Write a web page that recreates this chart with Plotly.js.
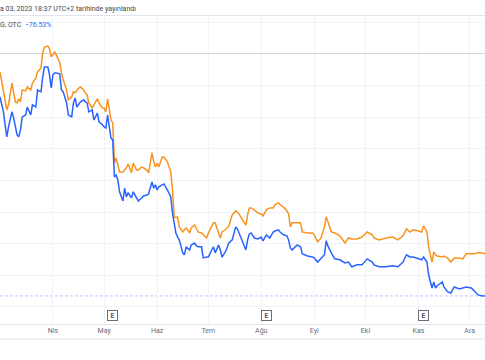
<!DOCTYPE html>
<html>
<head>
<meta charset="utf-8">
<script src="https://cdn.plot.ly/plotly-3.0.1.min.js"></script>
<style>html,body{margin:0;padding:0;background:#fff;}#chart{width:485px;height:360px;}</style>
</head>
<body>
<div id="chart"></div>
<script>
const dates = [
'2023-03-01','2023-03-03','2023-03-04','2023-03-05','2023-03-06','2023-03-08','2023-03-09','2023-03-10','2023-03-11','2023-03-12',
'2023-03-13','2023-03-14','2023-03-16','2023-03-17','2023-03-19','2023-03-20','2023-03-22','2023-03-23','2023-03-25','2023-03-26',
'2023-03-27','2023-03-29','2023-03-30','2023-03-31','2023-04-01','2023-04-02','2023-04-03','2023-04-05','2023-04-06','2023-04-07',
'2023-04-09','2023-04-10','2023-04-12','2023-04-13','2023-04-14','2023-04-15','2023-04-17','2023-04-19','2023-04-20','2023-04-21',
'2023-04-22','2023-04-24','2023-04-25','2023-04-27','2023-04-28','2023-04-30','2023-05-01','2023-05-02','2023-05-03','2023-05-04',
'2023-05-05','2023-05-06','2023-05-07','2023-05-08','2023-05-09','2023-05-10','2023-05-12','2023-05-13','2023-05-14','2023-05-15',
'2023-05-17','2023-05-18','2023-05-20','2023-05-21','2023-05-23','2023-05-24','2023-05-26','2023-05-27','2023-05-29','2023-05-30',
'2023-05-31','2023-06-01','2023-06-02','2023-06-04','2023-06-05','2023-06-07','2023-06-08','2023-06-09','2023-06-10','2023-06-11',
'2023-06-12','2023-06-13','2023-06-14','2023-06-16','2023-06-17','2023-06-18','2023-06-20','2023-06-21','2023-06-23','2023-06-24',
'2023-06-25','2023-06-27','2023-06-28','2023-06-30','2023-07-01','2023-07-03','2023-07-04','2023-07-05','2023-07-07','2023-07-08',
'2023-07-09','2023-07-11','2023-07-13','2023-07-15','2023-07-17','2023-07-18','2023-07-19','2023-07-21','2023-07-23','2023-07-24',
'2023-07-25','2023-07-26','2023-07-28','2023-07-30','2023-08-01','2023-08-02','2023-08-04','2023-08-06','2023-08-08','2023-08-09',
'2023-08-11','2023-08-12','2023-08-14','2023-08-16','2023-08-17','2023-08-18','2023-08-19','2023-08-22','2023-08-24','2023-08-25',
'2023-08-28','2023-08-31','2023-09-01','2023-09-03','2023-09-05','2023-09-07','2023-09-08','2023-09-09','2023-09-11','2023-09-13',
'2023-09-16','2023-09-19','2023-09-21','2023-09-23','2023-09-26','2023-09-29','2023-10-02','2023-10-05','2023-10-06','2023-10-09',
'2023-10-13','2023-10-17','2023-10-20','2023-10-23','2023-10-25','2023-10-27','2023-10-29','2023-11-01','2023-11-03','2023-11-04',
'2023-11-06','2023-11-07','2023-11-09','2023-11-10','2023-11-11','2023-11-12','2023-11-15','2023-11-16','2023-11-18','2023-11-20',
'2023-11-22','2023-11-25','2023-11-27','2023-11-29','2023-12-02','2023-12-04','2023-12-06','2023-12-08','2023-12-10'
];
const orangeVals = [
-5.7,-11.4,-15.5,-17.7,-16.1,-9.2,-12.3,-15.2,-15.5,-14.2,
-15.2,-11.4,-11.7,-10.4,-11.4,-9.2,-7.6,-5.7,-4.4,0.3,
2.2,2.5,1.6,-0.9,-0.3,0.6,-0.3,-2.8,-6.0,-8.2,
-11.4,-14.5,-13.6,-12.0,-12.3,-11.4,-10.4,-11.4,-12.3,-13.0,
-15.5,-17.1,-16.1,-14.2,-15.5,-17.1,-17.1,-18.3,-14.2,-17.7,
-20.9,-21.8,-34.5,-32.9,-35.7,-37.3,-37.3,-36.7,-36.0,-34.8,
-37.6,-34.5,-36.7,-36.7,-35.7,-36.0,-36.7,-37.6,-31.3,-34.1,
-35.7,-34.5,-35.7,-32.6,-32.6,-34.1,-35.4,-37.3,-43.0,-51.5,
-51.8,-51.5,-54.7,-56.3,-55.6,-55.0,-56.6,-55.0,-54.1,-55.0,
-56.3,-56.6,-57.2,-58.2,-56.6,-54.7,-53.4,-53.4,-56.3,-58.2,
-56.3,-55.6,-54.4,-50.9,-49.6,-50.0,-50.6,-52.5,-54.1,-50.9,
-48.7,-48.7,-49.3,-50.3,-50.6,-51.2,-49.3,-48.7,-48.7,-47.7,
-47.1,-47.7,-48.4,-49.6,-50.6,-54.7,-53.4,-53.4,-53.4,-56.3,
-56.6,-56.6,-57.2,-59.4,-58.2,-54.7,-51.5,-53.1,-56.3,-56.6,
-57.5,-59.8,-58.2,-58.5,-58.5,-57.9,-56.3,-57.2,-58.2,-58.8,
-58.2,-57.9,-58.8,-57.5,-55.3,-56.3,-55.6,-56.0,-56.3,-54.4,
-56.3,-61.0,-65.8,-62.6,-63.5,-63.9,-64.2,-63.9,-64.5,-65.8,
-64.5,-64.5,-64.8,-63.2,-63.2,-63.2,-62.9,-62.9,-63.2
];
const blueVals = [
-13.6,-18.3,-22.4,-26.2,-23.1,-18.3,-20.2,-23.4,-25.6,-26.2,
-24.0,-19.9,-19.3,-16.8,-19.3,-16.1,-16.8,-11.4,-12.0,-7.3,
-4.1,-4.1,-6.6,-10.7,-6.6,-6.0,-6.0,-6.3,-11.4,-12.0,
-15.5,-19.3,-19.9,-15.5,-13.9,-16.8,-15.2,-14.5,-15.2,-15.5,
-18.3,-17.7,-20.9,-18.7,-21.5,-22.4,-23.1,-23.4,-19.3,-23.1,
-26.6,-27.2,-38.9,-38.3,-39.8,-43.6,-46.5,-42.4,-45.2,-43.9,
-45.5,-43.6,-45.5,-46.5,-45.5,-44.9,-44.6,-44.3,-40.5,-42.4,
-41.4,-43.0,-42.0,-41.4,-41.1,-43.0,-43.9,-45.2,-50.3,-54.1,
-56.6,-57.9,-58.8,-62.9,-63.5,-61.0,-62.0,-60.4,-59.8,-60.7,
-61.0,-61.0,-64.5,-64.2,-64.2,-62.0,-61.0,-62.9,-60.4,-62.0,
-64.2,-62.6,-59.8,-58.8,-54.7,-55.3,-56.6,-59.4,-62.0,-58.8,
-56.9,-56.6,-58.2,-58.5,-57.9,-59.1,-57.2,-58.2,-56.3,-56.0,
-55.6,-56.3,-57.2,-57.5,-58.8,-61.3,-62.0,-60.4,-61.0,-63.2,
-63.9,-64.2,-64.5,-65.8,-64.5,-63.5,-59.1,-60.7,-62.9,-64.8,
-65.1,-66.1,-65.8,-67.3,-66.7,-66.7,-64.8,-65.8,-66.7,-67.3,
-67.3,-67.0,-67.3,-65.8,-63.5,-64.2,-64.2,-64.8,-65.1,-64.2,
-65.8,-69.9,-74.0,-72.1,-74.0,-73.3,-72.1,-73.7,-75.2,-75.6,
-73.7,-74.3,-74.0,-73.7,-74.0,-75.2,-76.2,-76.5,-76.53
];
const monthTicks = ['2023-03-01','2023-04-01','2023-05-01','2023-06-01','2023-07-01','2023-08-01','2023-09-01','2023-10-01','2023-11-01','2023-12-01'];
const monthLabels = ['Mar','Nis','May','Haz','Tem','Ağu','Eyl','Eki','Kas','Ara'];
const earningsDates = ['2023-05-06','2023-08-04','2023-11-04'];
const publishedText = 'a 03, 2023 18:37 UTC+2 tarihinde yayınlandı';
const symbolText = 'G, OTC';

const ORANGE = '#f7931e';
const BLUE = '#2962ff';
const FONT = 'Roboto, "Open Sans", sans-serif';

const lastBlue = blueVals[blueVals.length - 1];
const pctText = (lastBlue < 0 ? '\u2212' : '+') + Math.abs(lastBlue).toFixed(2) + '%';

const traces = [
  {x: dates, y: orangeVals, type: 'scatter', mode: 'lines', line: {color: ORANGE, width: 1.5}, hoverinfo: 'skip'},
  {x: dates, y: blueVals, type: 'scatter', mode: 'lines', line: {color: BLUE, width: 1.5}, hoverinfo: 'skip'}
];

const annotations = [
  {xref: 'paper', yref: 'paper', x: -0.004, y: 1.0227, xanchor: 'left', yanchor: 'middle', showarrow: false,
   text: publishedText, font: {family: FONT, size: 7, color: '#434651'}},
  {xref: 'paper', yref: 'paper', x: -0.004, y: 0.9708, xanchor: 'left', yanchor: 'middle', showarrow: false,
   text: symbolText + '&nbsp;&nbsp;<span style="color:' + BLUE + '">' + pctText + '</span>', font: {family: FONT, size: 7, color: '#434651'}}
];
earningsDates.forEach(d => annotations.push({
  xref: 'x', yref: 'paper', x: d, y: 0.026, xanchor: 'center', yanchor: 'middle', showarrow: false,
  text: '<b>E</b>', font: {family: FONT, size: 6.5, color: '#50535e'}, width: 8, height: 8,
  bordercolor: '#6a6d78', borderwidth: 1, borderpad: 0.5, bgcolor: '#fff'
}));

const layout = {
  width: 485, height: 360,
  margin: {l: 0, r: 0, t: 16, b: 36, pad: 0},
  paper_bgcolor: '#fff', plot_bgcolor: '#fff',
  showlegend: false,
  xaxis: {
    type: 'date', range: ['2023-03-01', '2023-12-10'],
    tickmode: 'array', tickvals: monthTicks, ticktext: monthLabels,
    showgrid: true, gridcolor: '#f0f3fa', gridwidth: 1,
    showline: true, linecolor: '#e0e3eb', linewidth: 1, mirror: true,
    ticks: '', tickfont: {family: FONT, size: 7, color: '#6a6d78'},
    zeroline: false, fixedrange: true
  },
  yaxis: {
    range: [-85.4, 12.0], dtick: 10, tick0: 0,
    showgrid: true, gridcolor: '#f0f3fa', gridwidth: 1,
    showticklabels: false, ticks: '',
    zeroline: true, zerolinecolor: '#d1d4dc', zerolinewidth: 1,
    showline: false, fixedrange: true
  },
  shapes: [
    {type: 'line', xref: 'paper', yref: 'y', x0: 0, x1: 1, y0: lastBlue, y1: lastBlue,
     line: {color: 'rgba(41,98,255,0.35)', width: 1, dash: '3px,2px'}, layer: 'below'},
    {type: 'line', xref: 'paper', yref: 'paper', x0: 0, x1: 1, y0: -0.0487, y1: -0.0487,
     line: {color: '#e0e3eb', width: 1}}
  ],
  annotations: annotations
};

Plotly.newPlot('chart', traces, layout, {staticPlot: true, displayModeBar: false});
</script>
</body>
</html>
